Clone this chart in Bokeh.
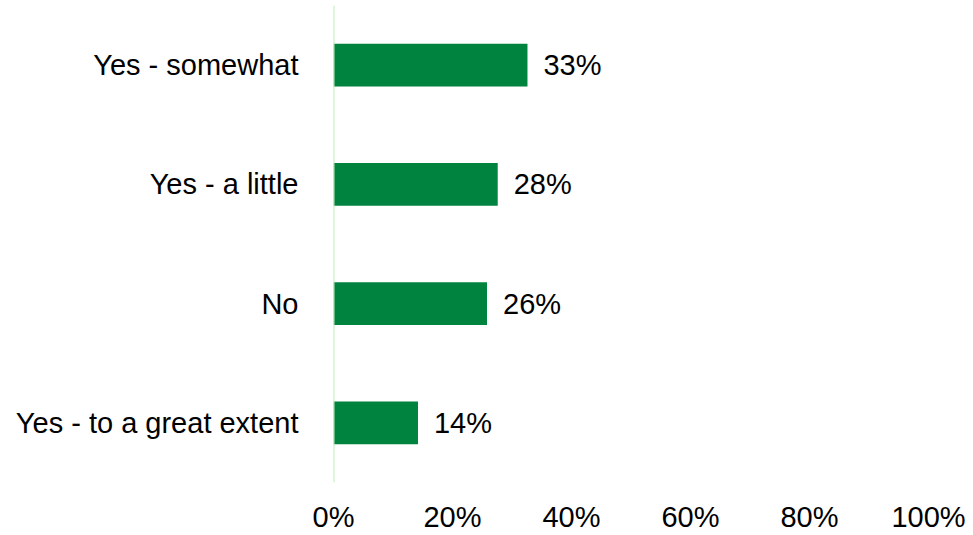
from bokeh.plotting import figure
from bokeh.models import ColumnDataSource, FactorRange, Span, FixedTicker, Range1d
from bokeh.core.properties import value
from bokeh.embed import file_html
from bokeh.resources import INLINE

# Data (top to bottom in the picture)
categories = ["Yes - somewhat", "Yes - a little", "No", "Yes - to a great extent"]
values = [32.6, 27.6, 25.8, 14.2]
value_labels = [f"{v:.0f}%" for v in values]
x_ticks = [0, 20, 40, 60, 80, 100]
x_tick_labels = ["0%", "20%", "40%", "60%", "80%", "100%"]

FONT = "Liberation Sans"
FONT_SIZE = "29px"
BAR_COLOR = "#00833f"

source = ColumnDataSource(dict(cat=categories, val=values, lab=value_labels))

p = figure(
    width=973, height=535,
    y_range=FactorRange(factors=list(reversed(categories))),
    x_range=Range1d(0, 100),
    output_backend="svg", toolbar_location=None,
    min_border_left=333, min_border_right=45,
    min_border_top=5, min_border_bottom=50,
)
p.outline_line_color = None
p.xgrid.grid_line_color = None
p.ygrid.grid_line_color = None

p.hbar(y="cat", right="val", left=0, height=0.36, source=source,
       fill_color=BAR_COLOR, line_color=None)

p.text(x="val", y="cat", text="lab", source=source, x_offset=16,
       text_font=value(FONT), text_font_size=FONT_SIZE, text_color="black",
       text_align="left", text_baseline="middle")

p.add_layout(Span(location=0, dimension="height", line_color="#bdeeb9", line_width=2))

# Axes
p.xaxis.ticker = FixedTicker(ticks=x_ticks)
p.xaxis.major_label_overrides = {t: l for t, l in zip(x_ticks, x_tick_labels)}
for ax in (p.xaxis[0], p.yaxis[0]):
    ax.axis_line_color = None
    ax.major_tick_line_color = None
    ax.minor_tick_line_color = None
    ax.major_tick_out = 0
    ax.major_tick_in = 0
    ax.major_label_text_font = FONT
    ax.major_label_text_font_size = FONT_SIZE
    ax.major_label_text_color = "black"
p.xaxis.major_label_standoff = 18
p.yaxis.major_label_standoff = 35

open("out.html", "w").write(file_html(p, INLINE))
